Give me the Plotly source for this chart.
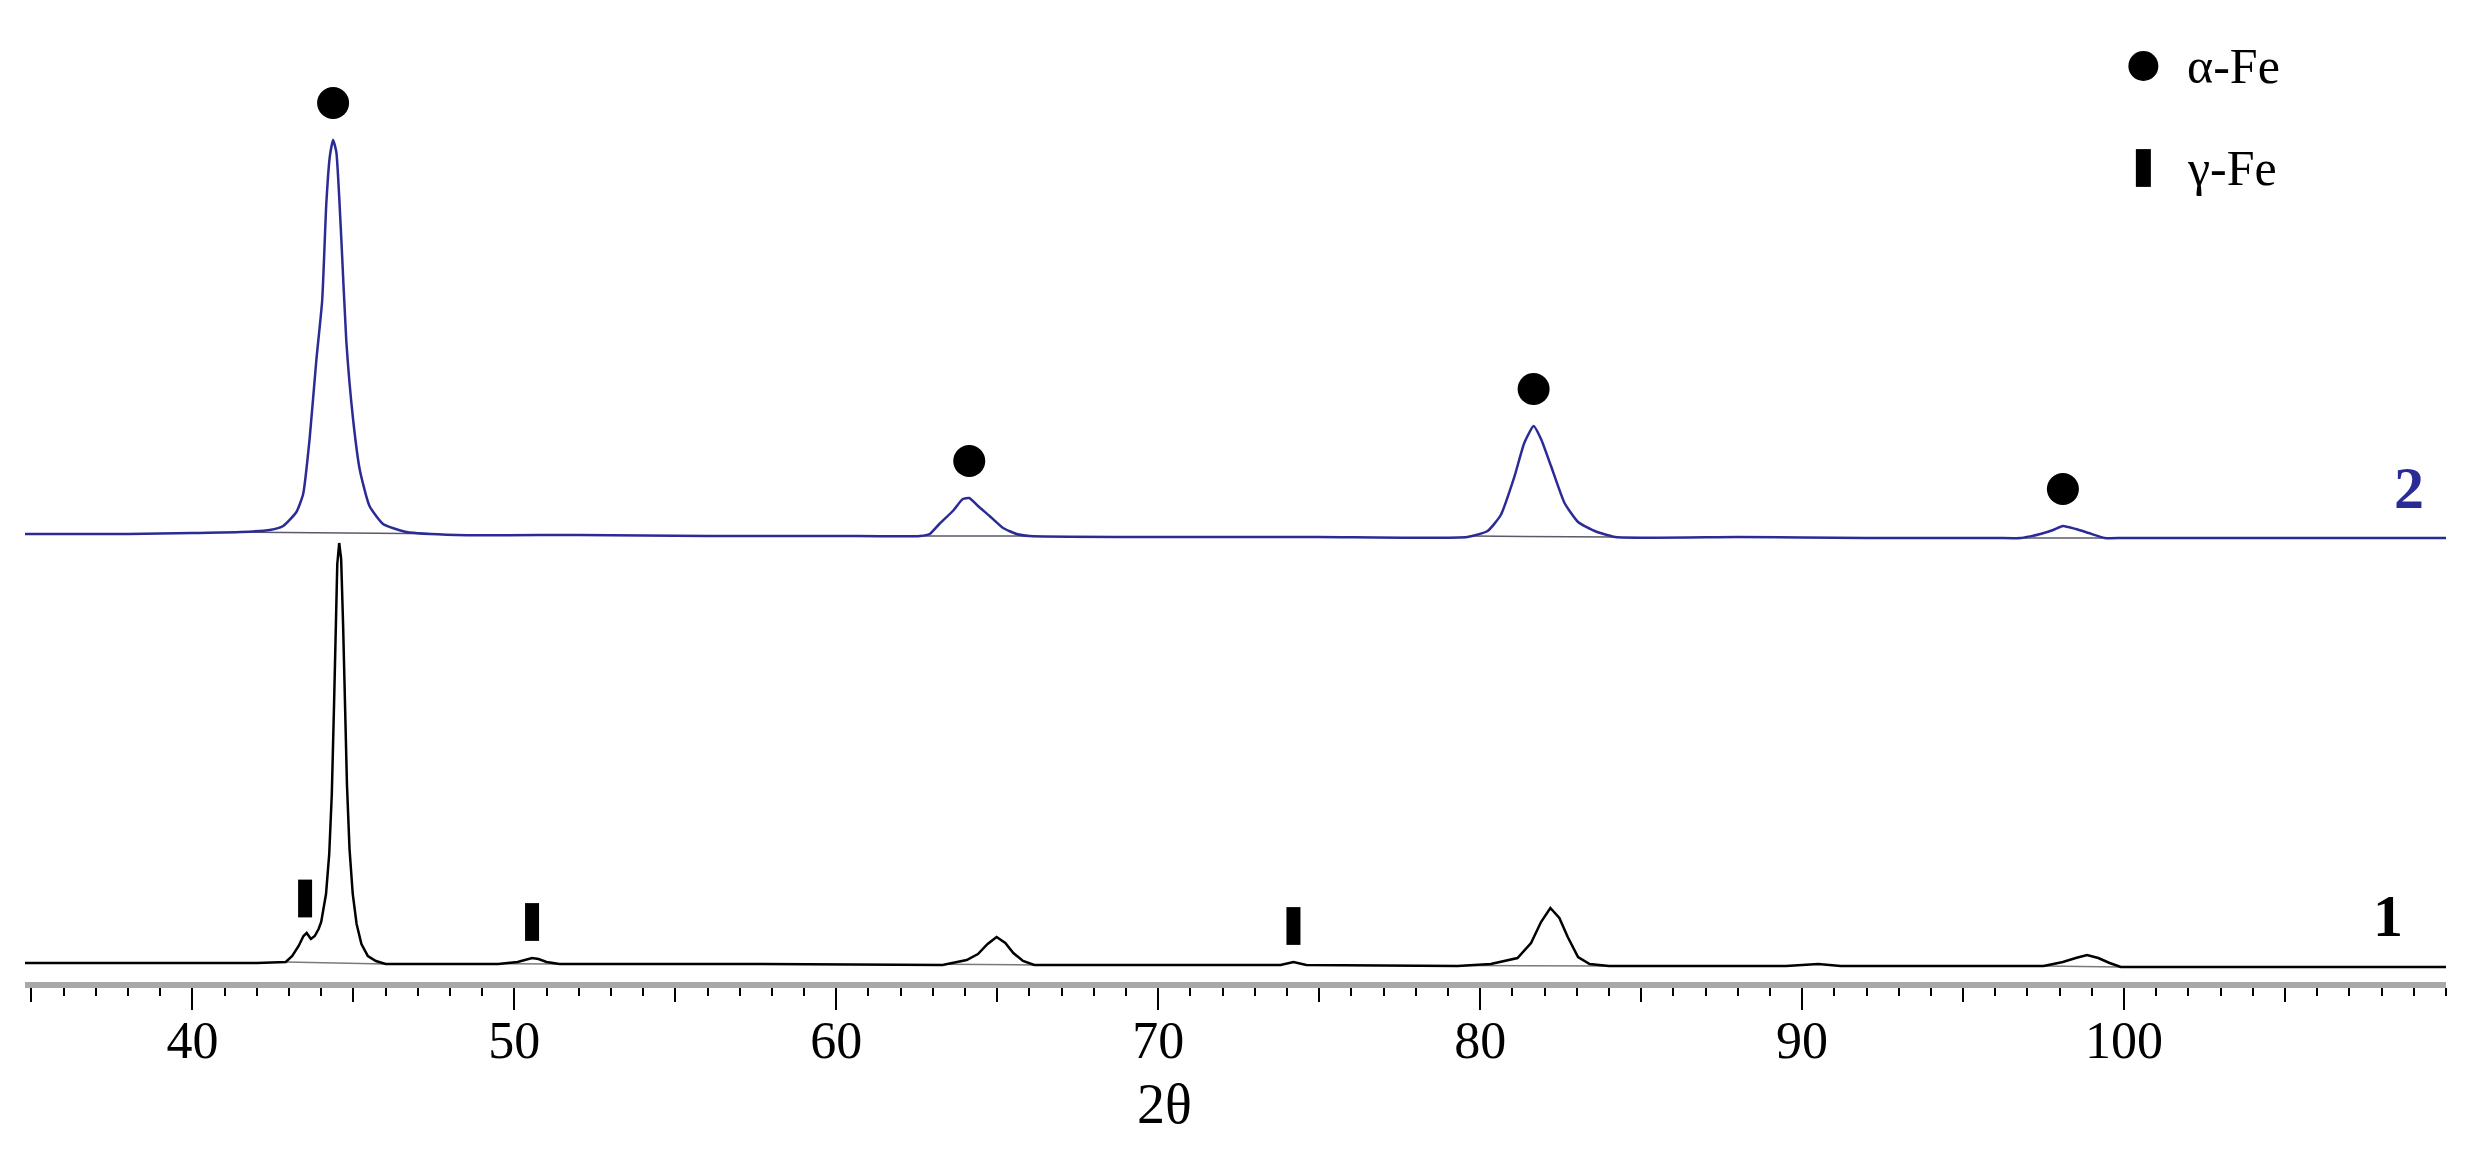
import numpy as np
import plotly.graph_objects as go

# diffraction angle (2 theta, degrees) and intensity above baseline (a.u.)
two_theta_1 = [34.8, 39.0, 42.0, 42.9, 43.1, 43.3, 43.45, 43.55, 43.68, 43.8, 43.92, 44.0,
               44.15, 44.25, 44.33, 44.4, 44.45, 44.5, 44.56, 44.62, 44.68, 44.74, 44.8, 44.88,
               44.98, 45.1, 45.25, 45.45, 45.7, 46.0, 49.5, 50.1, 50.4, 50.55, 50.75, 51.0, 51.4,
               57.0, 63.3, 63.6, 64.05, 64.4, 64.7, 64.98, 65.25, 65.5, 65.8, 66.15, 70.0, 73.8,
               74.2, 74.6, 79.3, 80.33, 81.16, 81.58, 81.89, 82.18, 82.46, 82.72, 83.04, 83.4,
               84.0, 89.5, 90.5, 91.2, 97.5, 98.1, 98.5, 98.85, 99.2, 99.55, 99.9, 104.0, 110.0]
intensity_1 = [1, 1, 1, 2, 8, 18, 28, 31, 25, 28, 35, 42,
               70, 110, 170, 260, 340, 400, 421, 405, 340, 260, 180, 115,
               70, 40, 20, 8, 3, 0, 0, 2, 5, 6, 5, 2, 0,
               0, -1, 1, 4, 10, 20, 27, 21, 11, 3, -1, -1, -1,
               2, -1, -2, 0, 6, 21, 42, 56, 46, 27, 7, 0,
               -2, -2, 0, -2, -2, 2, 6, 9, 6, 1, -3, -3, -3]

two_theta_2 = [34.8, 38.0, 40.0, 41.5, 42.4, 42.82, 43.23, 43.44, 43.64, 43.85, 44.03, 44.16,
               44.27, 44.37, 44.47, 44.63, 44.78, 44.99, 45.2, 45.5, 45.92, 46.65, 48.2, 52.0,
               56.0, 60.0, 62.6, 62.9, 63.2, 63.62, 63.93, 64.13, 64.4, 64.76, 65.18, 65.6, 66.0,
               70.0, 75.0, 79.6, 80.23, 80.64, 81.06, 81.37, 81.66, 81.89, 82.2, 82.62, 83.04,
               83.56, 84.2, 88.0, 92.0, 96.0, 96.8, 97.4, 97.8, 98.1, 98.5, 98.9, 99.4, 100.0,
               105.0, 110.0]
intensity_2 = [1, 1, 2, 3, 5, 9, 23, 41, 96, 175, 234, 332,
               379, 395, 383, 293, 194, 116, 65, 29, 11, 3, 0, 0,
               -1, -1, -1, 1, 11, 24, 36, 37, 29, 19, 7, 1, -1,
               -2, -2, -2, 4, 20, 58, 92, 109, 96, 69, 32, 13,
               4, -2, -2, -3, -3, -3, 1, 5, 9, 6, 2, -3, -3,
               -3, -3]

# fitted background under the peaks (start, end of each segment)
background_1 = [(42.9, 46.0), (49.6, 51.4), (63.4, 66.2), (79.5, 84.0), (97.5, 99.9)]
background_2 = [(41.3, 47.6), (62.6, 66.0), (79.7, 84.2), (96.5, 99.8)]

# phase markers
alpha_fe_peaks = [44.37, 64.13, 81.66, 98.1]      # on pattern 2
gamma_fe_peaks = [43.5, 50.55, 74.2]              # on pattern 1

major_ticks = [40, 50, 60, 70, 80, 90, 100]
mid_ticks = [35, 45, 55, 65, 75, 85, 95, 105]

OFFSET_1 = 18
OFFSET_2 = 447
ALPHA_GAP = 37
GAMMA_GAP = 36
BLUE = '#2b2b96'
FONT = 'Liberation Serif'


def shifted(vals, off):
    return [v + off for v in vals]


def bg_trace(segments, xs, ys, color):
    bx, by = [], []
    for a, b in segments:
        bx += [a, b, None]
        by += [float(np.interp(a, xs, ys)), float(np.interp(b, xs, ys)), None]
    return go.Scatter(x=bx, y=by, mode='lines', line=dict(color=color, width=1.5),
                      hoverinfo='skip', showlegend=False)


y1 = shifted(intensity_1, OFFSET_1)
y2 = shifted(intensity_2, OFFSET_2)

fig = go.Figure()
fig.add_trace(bg_trace(background_1, two_theta_1, y1, '#7a7a7a'))
fig.add_trace(bg_trace(background_2, two_theta_2, y2, '#5a5a6a'))
fig.add_trace(go.Scatter(x=two_theta_1, y=y1, mode='lines',
                         line=dict(color='black', width=2.5), showlegend=False))
fig.add_trace(go.Scatter(x=two_theta_2, y=y2, mode='lines', line_shape='spline',
                         line=dict(color=BLUE, width=2.5, smoothing=0.5), showlegend=False))

# alpha-Fe dots sit a fixed gap above the pattern
alpha_y = [float(np.interp(p, two_theta_2, y2)) + ALPHA_GAP for p in alpha_fe_peaks]
fig.add_trace(go.Scatter(x=alpha_fe_peaks, y=alpha_y, mode='markers',
                         marker=dict(symbol='circle', size=32, color='black'),
                         showlegend=False))
gamma_y = [float(np.interp(p, two_theta_1, y1)) + GAMMA_GAP for p in gamma_fe_peaks]
fig.add_trace(go.Scatter(x=gamma_fe_peaks, y=gamma_y, mode='markers',
                         marker=dict(symbol='line-ns', size=27, color='black',
                                     line=dict(color='black', width=14)),
                         showlegend=False))

# hand-made legend
fig.add_trace(go.Scatter(x=[100.6], y=[916], mode='markers',
                         marker=dict(symbol='circle', size=30, color='black'), showlegend=False))
fig.add_trace(go.Scatter(x=[100.6], y=[814], mode='markers',
                         marker=dict(symbol='line-ns', size=27, color='black',
                                     line=dict(color='black', width=15)), showlegend=False))
for txt, yy in [('α-Fe', 916), ('γ-Fe', 814)]:
    fig.add_annotation(x=101.9, y=yy, text=txt, showarrow=False, xanchor='left',
                       yanchor='middle', font=dict(family=FONT, size=50, color='black'))

fig.add_annotation(x=108.2, y=66, text='<b>1</b>', showarrow=False,
                   font=dict(family=FONT, size=60, color='black'))
fig.add_annotation(x=108.85, y=494, text='<b>2</b>', showarrow=False,
                   font=dict(family=FONT, size=60, color=BLUE))
fig.add_annotation(x=70.2, xref='x', y=-0.128, yref='paper', text='2θ', showarrow=False,
                   yanchor='middle', font=dict(family=FONT, size=56, color='black'))

# second axis carries the long 10-degree ticks and the 5-degree ticks,
# so the labels on the main axis can sit close to the line
fig.add_trace(go.Scatter(x=[35, 110], y=[None, None], xaxis='x2', mode='lines',
                         hoverinfo='skip', showlegend=False))

fig.update_layout(
    width=2471,
    height=1166,
    margin=dict(l=17, r=33, t=20, b=192),
    paper_bgcolor='white',
    plot_bgcolor='white',
    showlegend=False,
    xaxis=dict(
        range=[34.8, 110],
        showgrid=False,
        zeroline=False,
        showline=True,
        linecolor='#a8a8a8',
        linewidth=6,
        ticks='outside',
        tickmode='array',
        tickvals=major_ticks,
        ticklen=8,
        tickwidth=2,
        tickcolor='black',
        tickfont=dict(family=FONT, size=52, color='black'),
        minor=dict(ticks='outside', tickmode='linear', tick0=35, dtick=1,
                   ticklen=8, tickwidth=2, tickcolor='black', showgrid=False),
    ),
    xaxis2=dict(
        matches='x',
        overlaying='x',
        anchor='y',
        side='bottom',
        showgrid=False,
        zeroline=False,
        showline=True,
        linecolor='#a8a8a8',
        linewidth=6,
        ticks='outside',
        tickmode='array',
        tickvals=major_ticks,
        ticklen=22,
        tickwidth=2,
        tickcolor='black',
        showticklabels=False,
        minor=dict(ticks='outside', tickmode='array', tickvals=mid_ticks,
                   ticklen=14, tickwidth=2, tickcolor='black', showgrid=False),
    ),
    yaxis=dict(range=[0, 954], visible=False, showgrid=False, zeroline=False),
)

fig.write_html('out.html')
